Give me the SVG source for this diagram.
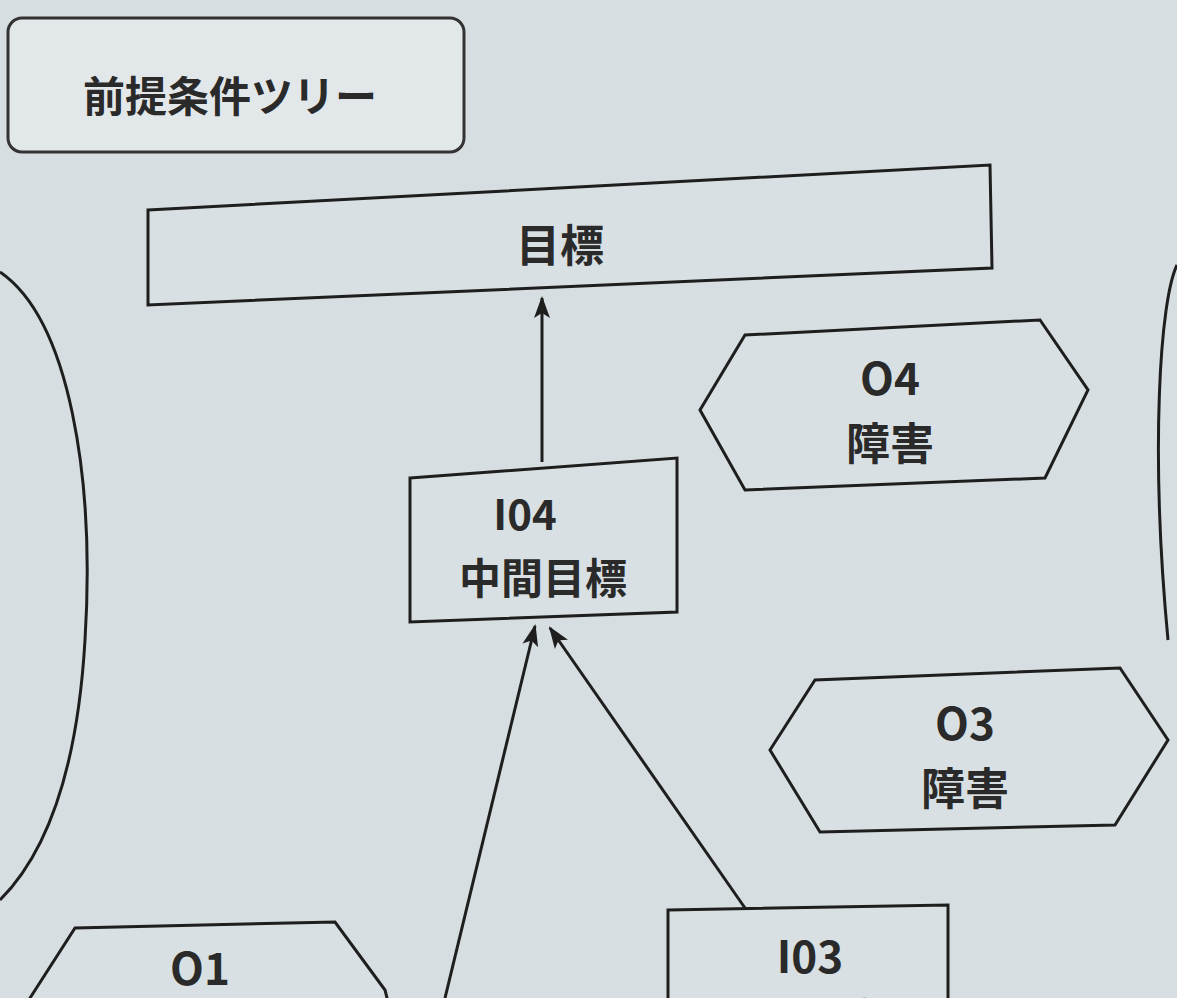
<svg xmlns="http://www.w3.org/2000/svg" width="1177" height="998" viewBox="0 0 1177 998">
<defs>
<style>
.s{fill:none;stroke:#1e1e1e;stroke-width:3}
.b{fill:#d8e0e3;stroke:#1e1e1e;stroke-width:3}
.t{font-family:"Noto Sans CJK JP","Liberation Sans",sans-serif;font-weight:bold;fill:#2a2a2a;text-anchor:middle}
</style>
<marker id="ah" markerWidth="22" markerHeight="22" refX="20" refY="8" orient="auto" markerUnits="userSpaceOnUse" viewBox="0 0 22 16"><path d="M0,0 L22,8 L0,16 L5,8 Z" fill="#1e1e1e"/></marker>
</defs>
<rect width="1177" height="998" fill="#d6dee1"/>
<g id="title"><rect x="8" y="18" width="456" height="134" rx="14" fill="#e2e7e9" stroke="#333" stroke-width="3"/><text class="t" x="230" y="112" font-size="42">前提条件ツリー</text></g>
<g id="left-arc"><path class="s" d="M0,272 C70,320 95,480 85,640 C78,760 50,850 0,900"/></g>
<g id="right-arc"><path class="s" d="M1177,265 C1160,300 1150,450 1168,640"/></g>
<g id="goal"><polygon class="b" points="148,210 990,165 992,268 148,305"/><text class="t" x="560" y="262" font-size="44">目標</text></g>
<g id="O4"><polygon class="b" points="700,410 745,335 1040,320 1088,390 1045,478 745,490"/><text class="t" x="890" y="395" font-size="44">O4</text><text class="t" x="890" y="460" font-size="44">障害</text></g>
<g id="I04"><polygon class="b" points="410,478 677,458 677,612 410,622"/><text class="t" x="525" y="530" font-size="42">I04</text><text class="t" x="543" y="594" font-size="42">中間目標</text></g>
<g id="O3"><polygon class="b" points="770,750 815,680 1120,668 1168,740 1115,825 820,832"/><text class="t" x="965" y="740" font-size="44">O3</text><text class="t" x="965" y="805" font-size="44">障害</text></g>
<g id="I03"><polygon class="b" points="668,910 948,905 948,1010 668,1010"/><text class="t" x="810" y="973" font-size="44">I03</text><text class="t" x="810" y="1036" font-size="44">中間目標</text></g>
<g id="O1"><polygon class="b" points="30,998 75,928 335,922 385,990 390,1010 30,1010"/><text class="t" x="200" y="985" font-size="44">O1</text></g>
<g id="connectors">
<line class="s" x1="542" y1="462" x2="542" y2="298" marker-end="url(#ah)"/>
<line class="s" x1="445" y1="998" x2="535" y2="626" marker-end="url(#ah)"/>
<line class="s" x1="745" y1="908" x2="550" y2="628" marker-end="url(#ah)"/>
</g>
</svg>
